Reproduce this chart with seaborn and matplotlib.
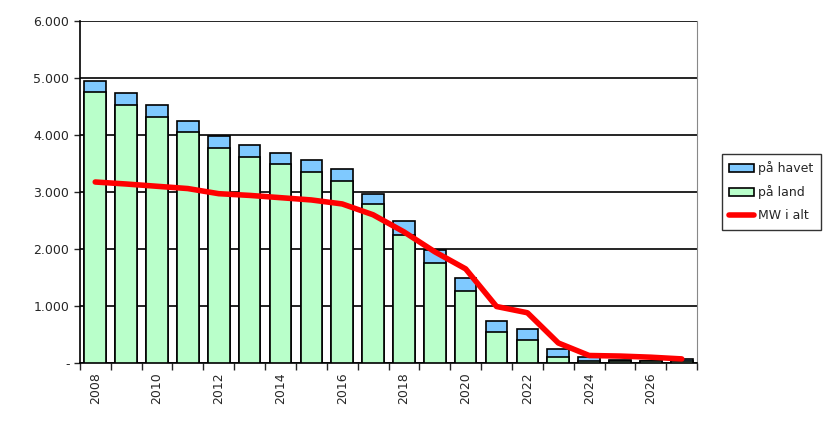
import matplotlib
matplotlib.use('Agg')
import matplotlib.pyplot as plt
import seaborn as sns
import numpy as np
import pandas as pd

years = list(range(2008, 2028))
land = [4750, 4520, 4310, 4050, 3770, 3610, 3490, 3350, 3190, 2790, 2250, 1750, 1260, 540, 400, 100, 40, 30, 25, 30]
havet = [200, 220, 210, 200, 210, 210, 190, 210, 210, 180, 240, 230, 230, 200, 190, 150, 60, 20, 15, 40]
total_mw = [3175, 3140, 3100, 3060, 2970, 2940, 2900, 2860, 2790, 2600, 2300, 1950, 1650, 990, 880, 350, 130, 120, 100, 70]

sns.set_style('white')
plt.rcParams['font.family'] = ['DejaVu Sans']

fig = plt.figure(figsize=(8.4, 4.21), dpi=100)
ax = fig.add_axes([0.095, 0.138, 0.735, 0.812])

df = pd.DataFrame({'year': [str(y) for y in years], 'land': land,
                   'total': np.array(land) + np.array(havet)})
sns.barplot(data=df, x='year', y='total', color='#7fc9ff', edgecolor='black',
            linewidth=1.2, width=0.7, saturation=1, ax=ax, label='på havet', zorder=2)
sns.barplot(data=df, x='year', y='land', color='#b9ffca', edgecolor='black',
            linewidth=1.2, width=0.7, saturation=1, ax=ax, label='på land', zorder=3)
ax.plot(range(len(years)), total_mw, color='#ff0000', linewidth=4, label='MW i alt', zorder=4)

ax.set_xlim(-0.5, len(years) - 0.5)
ax.set_ylim(0, 6000)
ax.set_yticks(range(0, 6001, 1000))
ax.set_yticklabels(['-'] + [f'{v // 1000}.000' for v in range(1000, 6001, 1000)], fontsize=9)
ax.yaxis.grid(True, color='black', linewidth=1.2, zorder=0)
ax.set_axisbelow(True)

ax.set_xticks([i - 0.5 for i in range(len(years) + 1)], minor=False)
ax.set_xticklabels([])
ax.set_xticks(range(0, len(years), 2), minor=True)
ax.set_xticklabels([str(y) for y in years[::2]], minor=True, rotation=90, fontsize=9)
ax.tick_params(axis='x', which='major', length=5, width=1, direction='out', bottom=True)
ax.tick_params(axis='x', which='minor', length=0, pad=7)
ax.tick_params(axis='y', length=4, width=1, left=True)
ax.set_xlabel('')
ax.set_ylabel('')
for s in ['left', 'bottom']:
    ax.spines[s].set_color('black')
    ax.spines[s].set_linewidth(1.2)
ax.spines['right'].set_color('#888888')
ax.spines['top'].set_visible(False)

h, l = ax.get_legend_handles_labels()
order = [l.index('på havet'), l.index('på land'), l.index('MW i alt')]
ax.legend([h[i] for i in order], [l[i] for i in order],
          loc='center left', bbox_to_anchor=(1.03, 0.5), fontsize=9, frameon=True,
          edgecolor='black', fancybox=False, handlelength=2, handletextpad=0.3,
          borderpad=0.6, labelspacing=0.8)

fig.savefig('out.png', dpi=100)
